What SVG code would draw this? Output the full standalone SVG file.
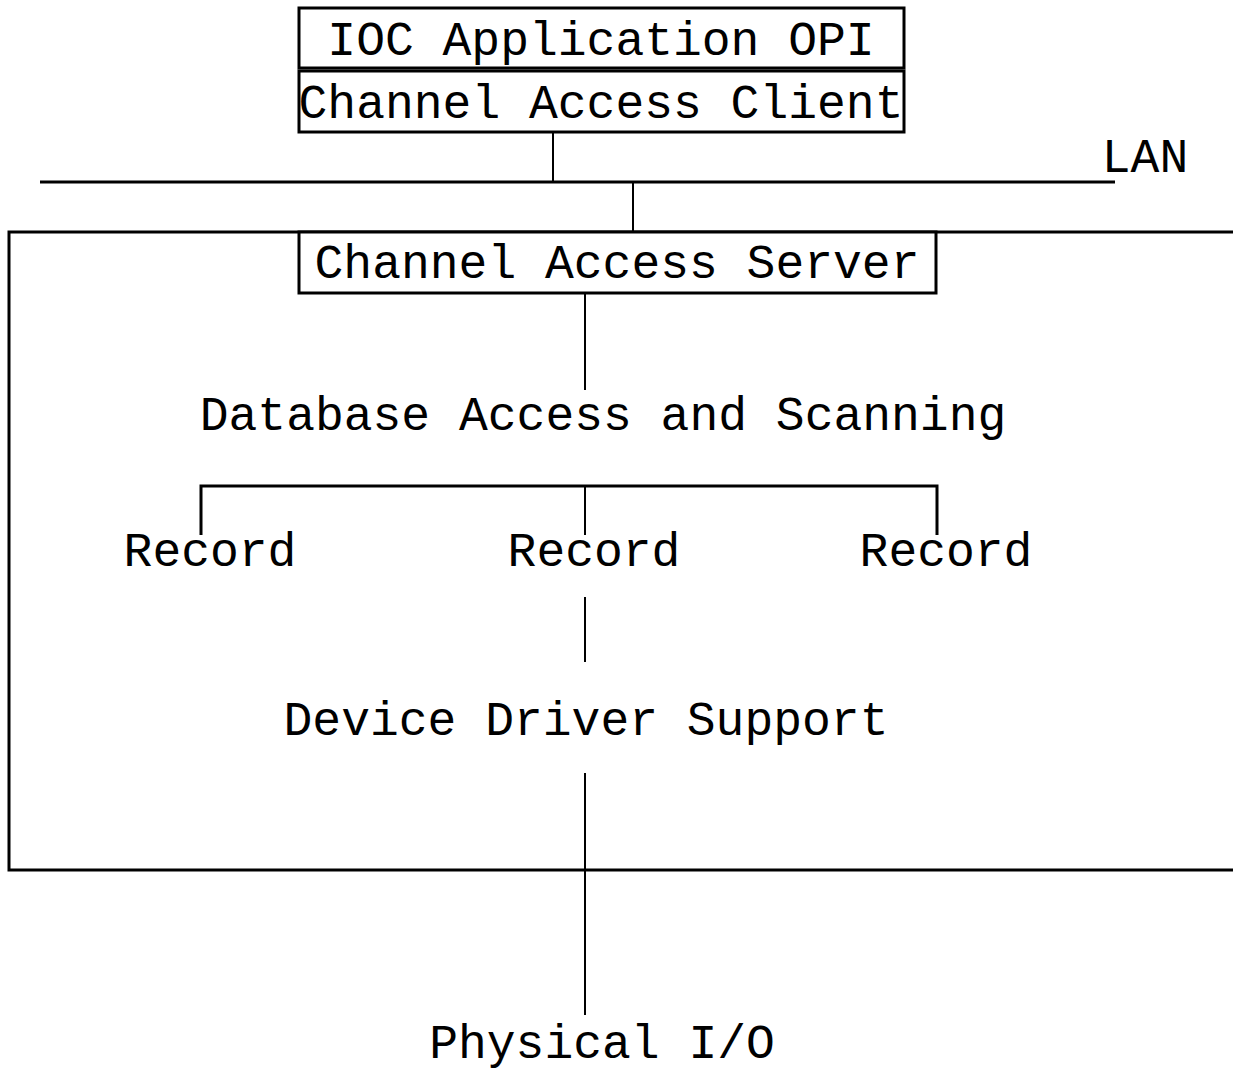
<svg xmlns="http://www.w3.org/2000/svg" width="1233" height="1070" viewBox="0 0 1233 1070">
  <style>
    .lbl { font-family: "Liberation Mono", "DejaVu Sans Mono", monospace; font-size: 48px; fill: #000; text-anchor: middle; }
    .box { fill: #fff; stroke: #000; stroke-width: 3; }
    .thin { stroke: #000; stroke-width: 2; fill: none; }
    .thick { stroke: #000; stroke-width: 3; fill: none; }
  </style>
  <rect width="1233" height="1070" fill="#fff"/>

  <!-- connectors and frame -->
  <g id="connectors">
    <line class="thin" x1="553" y1="132" x2="553" y2="182"/>
    <line class="thick" x1="40" y1="182" x2="1115" y2="182"/>
    <line class="thin" x1="633" y1="182" x2="633" y2="232"/>
    <!-- IOC enclosure, open on the right -->
    <polyline class="thick" points="1233,232 9,232 9,870 1233,870"/>
    <line class="thin" x1="585" y1="293" x2="585" y2="390"/>
    <polyline class="thick" points="201,535 201,486 937,486 937,535"/>
    <line class="thin" x1="585" y1="486" x2="585" y2="535"/>
    <line class="thin" x1="585" y1="597" x2="585" y2="662"/>
    <line class="thin" x1="585" y1="773" x2="585" y2="1015"/>
  </g>

  <g id="opi">
    <rect class="box" x="299" y="8" width="605" height="60"/>
    <text class="lbl" x="601" y="55">IOC Application OPI</text>
  </g>
  <g id="ca-client">
    <rect class="box" x="299" y="71" width="605" height="61"/>
    <text class="lbl" x="601" y="118">Channel Access Client</text>
  </g>
  <g id="lan">
    <text class="lbl" x="1145" y="172">LAN</text>
  </g>
  <g id="ca-server">
    <rect class="box" x="299" y="232" width="637" height="61"/>
    <text class="lbl" x="617" y="278">Channel Access Server</text>
  </g>
  <g id="database">
    <text class="lbl" x="603" y="430">Database Access and Scanning</text>
  </g>
  <g id="record-1">
    <text class="lbl" x="210" y="566">Record</text>
  </g>
  <g id="record-2">
    <text class="lbl" x="594" y="566">Record</text>
  </g>
  <g id="record-3">
    <text class="lbl" x="946" y="566">Record</text>
  </g>
  <g id="device-support">
    <text class="lbl" x="586" y="735">Device Driver Support</text>
  </g>
  <g id="physical-io">
    <text class="lbl" x="602" y="1058">Physical I/O</text>
  </g>
</svg>
